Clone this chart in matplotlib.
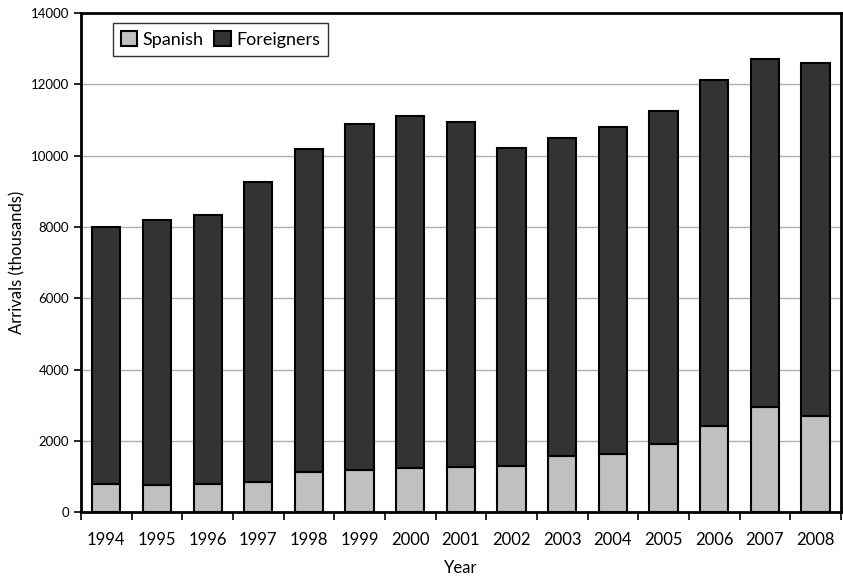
import numpy as np
import matplotlib.pyplot as plt

# Arrivals by year (thousands)
years = ['1994', '1995', '1996', '1997', '1998', '1999', '2000', '2001',
         '2002', '2003', '2004', '2005', '2006', '2007', '2008']
spanish = [777, 757, 794, 850, 1114, 1170, 1250, 1258,
           1300, 1571, 1627, 1908, 2422, 2937, 2694]
total = [7997, 8193, 8320, 9270, 10190, 10880, 11100, 10934,
         10205, 10497, 10794, 11234, 12104, 12695, 12583]
foreigners = [t - s for t, s in zip(total, spanish)]

plt.rcParams['font.family'] = ['Lato', 'DejaVu Sans']

fig = plt.figure(figsize=(8.43, 5.84), dpi=100)
ax = fig.add_axes([0.096, 0.123, 0.9015, 0.855])

x = np.arange(len(years))
w = 0.556
ax.bar(x, spanish, w, color='#c0c0c0', edgecolor='black', linewidth=1.5,
       label='Spanish', zorder=3)
ax.bar(x, foreigners, w, bottom=spanish, color='#333333', edgecolor='black',
       linewidth=1.5, label='Foreigners', zorder=3)

ax.set_xlim(-0.5, len(years) - 0.5)
ax.set_ylim(0, 14000)
ax.set_yticks(np.arange(0, 14001, 2000))
ax.yaxis.grid(True, color='#b0b0b0', linewidth=1, zorder=0)

# category labels at centres, tick marks at boundaries
ax.set_xticks(x)
ax.set_xticklabels(years, fontsize=12)
ax.set_xticks(np.arange(-0.5, len(years)), minor=True)
ax.tick_params(axis='x', which='major', length=0, pad=14)
ax.tick_params(axis='x', which='minor', length=6, width=1.2, direction='out')
ax.tick_params(axis='y', length=5, width=1.2, direction='out', labelsize=9.5)

for side in ['left', 'bottom', 'top', 'right']:
    ax.spines[side].set_linewidth(2)
    ax.spines[side].set_color('black')

ax.set_xlabel('Year', fontsize=12, labelpad=9)
ax.set_ylabel('Arrivals (thousands)', fontsize=12)

leg = ax.legend(loc='upper left', bbox_to_anchor=(0.042, 0.98), ncol=2,
                fontsize=13, frameon=True, fancybox=False, handlelength=0.9,
                handleheight=0.9, handletextpad=0.3, columnspacing=0.6,
                borderpad=0.45, borderaxespad=0)
leg.get_frame().set_edgecolor('black')
leg.get_frame().set_linewidth(1)

fig.savefig('out.png', dpi=100)
